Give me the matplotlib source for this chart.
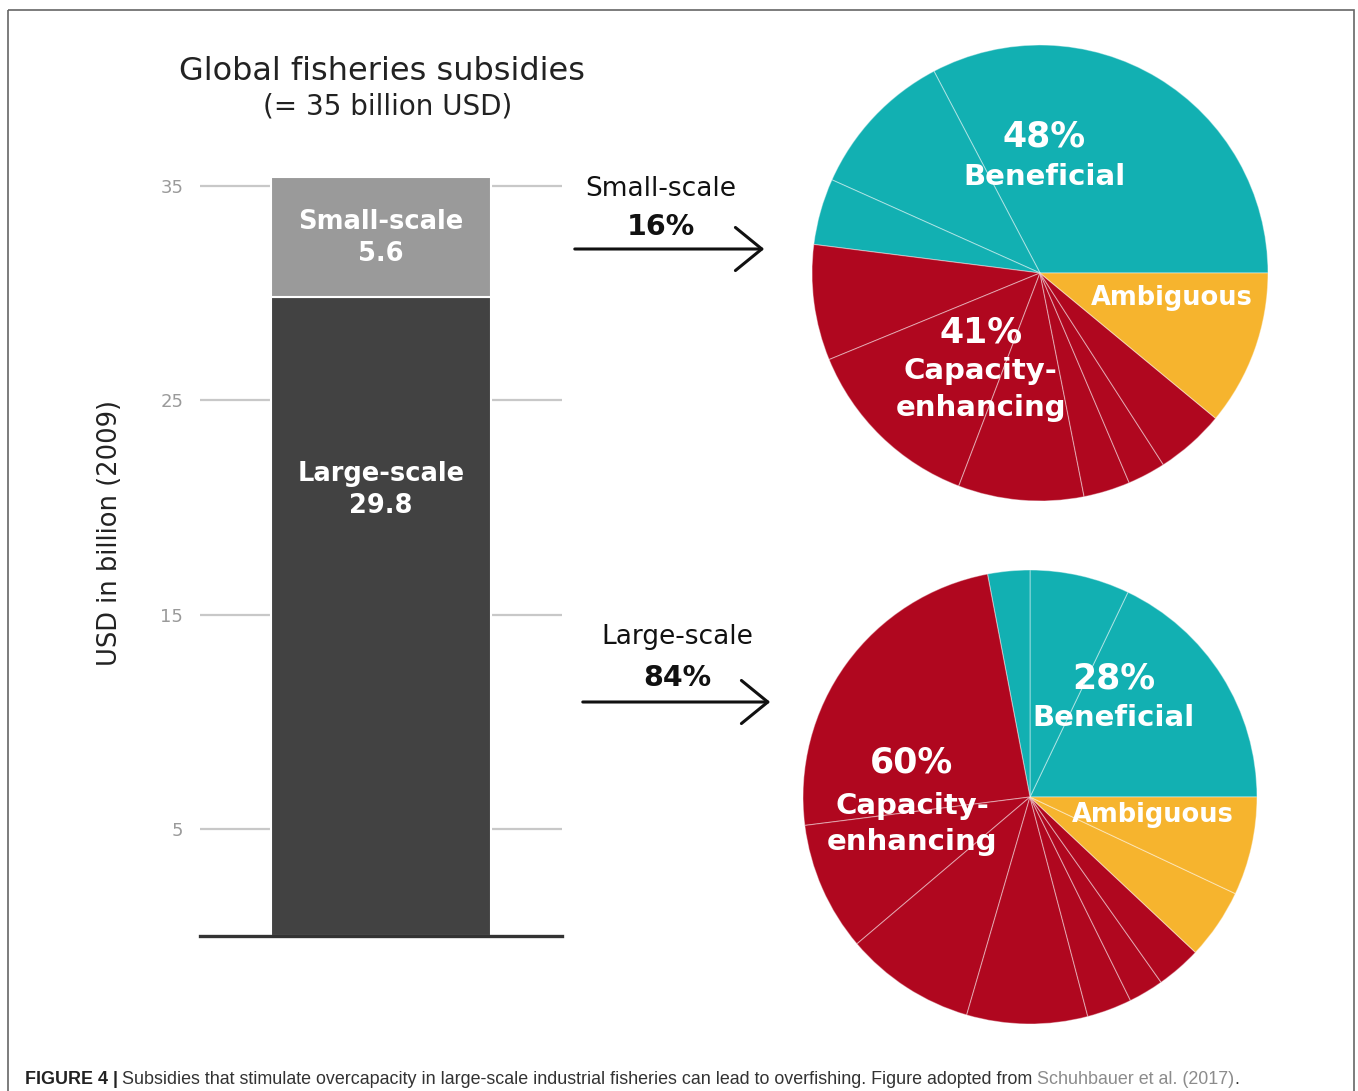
import numpy as np
import matplotlib.pyplot as plt
from matplotlib.patches import Rectangle

# Data

scales = ['Large-scale', 'Small-scale']
subsidy_bn = [29.8, 5.6]
shares_pct = [84, 16]
yticks = [5, 15, 25, 35]

categories = ['Beneficial', 'Capacity-enhancing', 'Ambiguous']
small_totals = [48, 41, 11]
large_totals = [28, 60, 12]

# sub-slices inside each category (% of the whole pie)
small_beneficial = [32.7, 10.6, 4.7]
small_capacity = [8.2, 13.0, 8.9, 3.3, 2.7, 4.9]
small_ambiguous = [11.0]
large_beneficial = [17.9, 7.1, 3.0]
large_capacity = [24.0, 9.2, 9.3, 8.6, 3.2, 2.5, 3.2]
large_ambiguous = [5.0, 7.0]

caption_parts = [('FIGURE 4 |', 'bold', '#222222'),
                 ('Subsidies that stimulate overcapacity in large-scale industrial fisheries can lead to overfishing. Figure adopted from', 'normal', '#333333'),
                 ('Schuhbauer et al. (2017)', 'normal', '#8c8c8c'),
                 ('.', 'normal', '#333333')]

# Colours

TEAL = '#12b0b2'
RED = '#b0071f'
YELLOW = '#f6b42e'
DARK = '#424242'
LIGHT = '#9a9a9a'

W, H = 1358, 1091
fig = plt.figure(figsize=(W / 100, H / 100), dpi=100)


def px_axes(x0, y0, x1, y1):
    # axes from pixel box (y measured from top)
    return fig.add_axes([x0 / W, 1 - y1 / H, (x1 - x0) / W, (y1 - y0) / H])


# Overlay in pixel units for titles, arrows and caption
ov = fig.add_axes([0, 0, 1, 1])
ov.set_xlim(0, W)
ov.set_ylim(H, 0)
ov.axis('off')

ov.add_patch(Rectangle((8, 10), 1346, 1100, fill=False, edgecolor='#666666', lw=1.2))

ov.text(382, 71, 'Global fisheries subsidies', ha='center', va='center', fontsize=23, color='#222222')
ov.text(388, 106, '(= 35 billion USD)', ha='center', va='center', fontsize=20, color='#222222')
ov.text(110, 533, 'USD in billion (2009)', rotation=90, ha='center', va='center', fontsize=18.5, color='#222222')

# Stacked bar

unit = 21.43
ax = px_axes(200, 936 - 37 * unit, 562, 936)
ax.bar(0, subsidy_bn[0], width=0.61, color=DARK, edgecolor='white', lw=1.5, zorder=3)
ax.bar(0, subsidy_bn[1], bottom=subsidy_bn[0], width=0.61, color=LIGHT, edgecolor='white', lw=1.5, zorder=3)
ax.set_xlim(-0.5, 0.5)
ax.set_ylim(0, 37)
ax.set_yticks(yticks)
ax.set_xticks([])
ax.grid(axis='y', color='#c8c8c8', lw=1.6)
ax.set_axisbelow(True)
ax.tick_params(axis='y', length=0, pad=12, labelsize=13, labelcolor='#9a9a9a')
for s in ['top', 'left', 'right']:
    ax.spines[s].set_visible(False)
ax.spines['bottom'].set_color('#333333')
ax.spines['bottom'].set_linewidth(2.4)
ax.spines['bottom'].set_zorder(5)
ax.patch.set_visible(False)

top_mid = subsidy_bn[0] + subsidy_bn[1] / 2
ax.text(0, top_mid + 0.72, scales[1], ha='center', va='center', fontsize=18.5, fontweight='bold', color='white', zorder=4)
ax.text(0, top_mid - 0.78, f'{subsidy_bn[1]}', ha='center', va='center', fontsize=18.5, fontweight='bold', color='white', zorder=4)
ax.text(0, subsidy_bn[0] * 0.70 + 0.72, scales[0], ha='center', va='center', fontsize=18.5, fontweight='bold', color='white', zorder=4)
ax.text(0, subsidy_bn[0] * 0.70 - 0.78, f'{subsidy_bn[0]}', ha='center', va='center', fontsize=18.5, fontweight='bold', color='white', zorder=4)

# Arrows with share labels

arrow_style = '->,head_length=1.9,head_width=1.55'
ov.text(661, 189, scales[1], ha='center', va='center', fontsize=19, color='#111111')
ov.text(661, 227, f'{shares_pct[1]}%', ha='center', va='center', fontsize=20.5, fontweight='bold', color='#111111')
ov.annotate('', xy=(767, 249), xytext=(572, 249),
            arrowprops=dict(arrowstyle=arrow_style, lw=2.2, color='#111111', mutation_scale=10))

ov.text(677, 637, scales[0], ha='center', va='center', fontsize=19, color='#111111')
ov.text(677, 678, f'{shares_pct[0]}%', ha='center', va='center', fontsize=20.5, fontweight='bold', color='#111111')
ov.annotate('', xy=(773, 702), xytext=(580, 702),
            arrowprops=dict(arrowstyle=arrow_style, lw=2.2, color='#111111', mutation_scale=10))

# Pies


def draw_pie(cx, cy, r, beneficial, capacity, ambiguous):
    pad = 1.04
    pax = px_axes(cx - pad * r, cy - pad * r, cx + pad * r, cy + pad * r)
    sizes = beneficial + capacity + ambiguous
    colors = [TEAL] * len(beneficial) + [RED] * len(capacity) + [YELLOW] * len(ambiguous)
    pax.pie(sizes, colors=colors, startangle=0, counterclock=True, radius=1,
            wedgeprops=dict(edgecolor=(1, 1, 1, 0.4), linewidth=0.8))
    pax.set_xlim(-pad, pad)
    pax.set_ylim(-pad, pad)
    return pax


lab = dict(ha='center', va='center', color='white', fontweight='bold')

p1 = draw_pie(1040, 273, 228, small_beneficial, small_capacity, small_ambiguous)
p1.text(0.02, 0.60, f'{small_totals[0]}%', fontsize=25, **lab)
p1.text(0.02, 0.42, categories[0], fontsize=21, **lab)
p1.text(0.58, -0.11, categories[2], fontsize=18.5, **lab)
p1.text(-0.26, -0.26, f'{small_totals[1]}%', fontsize=25, **lab)
p1.text(-0.26, -0.43, 'Capacity-', fontsize=21, **lab)
p1.text(-0.26, -0.59, 'enhancing', fontsize=21, **lab)

p2 = draw_pie(1030, 797, 227, large_beneficial, large_capacity, large_ambiguous)
p2.text(0.37, 0.52, f'{large_totals[0]}%', fontsize=25, **lab)
p2.text(0.37, 0.35, categories[0], fontsize=21, **lab)
p2.text(0.54, -0.08, categories[2], fontsize=18.5, **lab)
p2.text(-0.52, 0.15, f'{large_totals[1]}%', fontsize=25, **lab)
p2.text(-0.52, -0.04, 'Capacity-', fontsize=21, **lab)
p2.text(-0.52, -0.20, 'enhancing', fontsize=21, **lab)

# Caption, pieced together left to right

renderer = fig.canvas.get_renderer()
cap_size = 12.9
cap_family = ['Liberation Sans', 'DejaVu Sans']
x = 25
for i, (txt, weight, color) in enumerate(caption_parts):
    t = ov.text(x, 1080, txt, ha='left', va='center', fontsize=cap_size, fontweight=weight,
                color=color, family=cap_family)
    bb = t.get_window_extent(renderer)
    gap = 0 if i == len(caption_parts) - 2 else cap_size * 100 / 72 * 0.25
    x += bb.width + gap

fig.savefig('out.png', dpi=100)
